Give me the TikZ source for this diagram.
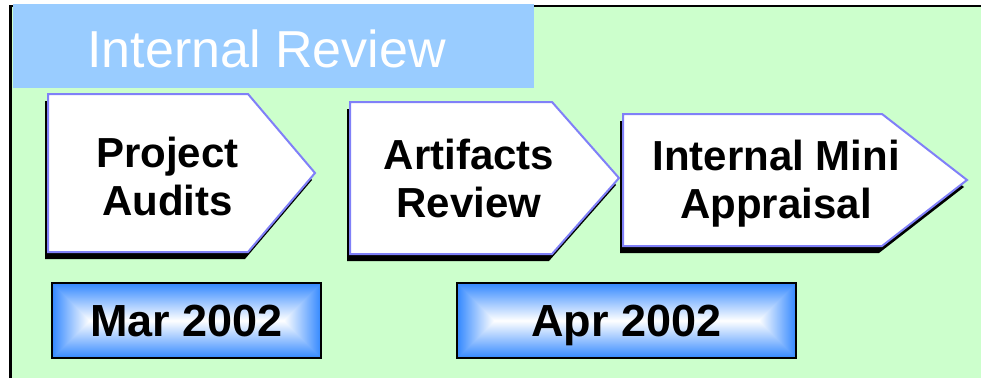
\documentclass[tikz,border=0pt]{standalone}
\usepackage{fontspec}
\setmainfont{Liberation Sans}
\usepackage{xcolor}
\usepackage{tikz}
\usetikzlibrary{positioning}
\definecolor{bggreen}{HTML}{CCFFCC}
\definecolor{headblue}{HTML}{99CCFF}
\definecolor{stageedge}{HTML}{8080F8}
\definecolor{dateblue}{HTML}{3388FF}

\begin{document}
\begin{tikzpicture}[x=1pt, y=-1pt,
    stagebox/.style={fill=white, draw=stageedge, line width=2pt, line join=miter},
    stageshadow/.style={fill=black},
    stagetext/.style={align=center, font=\fontsize{42}{48}\selectfont\bfseries},
    datebox/.style={draw=black, line width=2.5pt, minimum height=75pt,
      text height=32pt, text depth=0pt, font=\fontsize{45}{54}\selectfont\bfseries}]
    \useasboundingbox (0,0) rectangle (981,378);
    \fill[bggreen] (10,6) rectangle (981,378);
    \draw[line width=2.5pt] (10.4,378) -- (10.4,6.2) -- (981,6.2);
    \fill[headblue] (13,4) rectangle (534,88);
    \node[anchor=base, text=white, font=\fontsize{52}{62}\selectfont] (title) at (266.5,67) {Internal Review};

    \fill[stageshadow] (45,101) -- (245,101) -- (312,180) -- (245,259) -- (45,259) -- cycle;
    \draw[stagebox] (48,94) -- (248,94) -- (315,173) -- (248,252) -- (48,252) -- cycle;
    \node[stagetext] (audits) at (167.5,176.5) {Project\\Audits};

    \fill[stageshadow] (347,109) -- (549,109) -- (616,185) -- (549,261) -- (347,261) -- cycle;
    \draw[stagebox] (350,102) -- (552,102) -- (619,178) -- (552,254) -- (350,254) -- cycle;
    \node[stagetext] (artifacts) at (469,178.5) {Artifacts\\Review};

    \fill[stageshadow] (620,121) -- (879,121) -- (964,187) -- (879,253) -- (620,253) -- cycle;
    \draw[stagebox] (623,114) -- (882,114) -- (967,180) -- (882,246) -- (623,246) -- cycle;
    \node[stagetext] (appraisal) at (776,184) {Internal Mini\\Appraisal};

    \foreach \l/\r in {52/321, 457/796} {
      \shade[top color=dateblue, bottom color=dateblue, middle color=white] (\l,283) rectangle (\r,358);
      \shade[left color=dateblue, right color=white] (\l,283) -- (\l+37.5,320.5) -- (\l,358) -- cycle;
      \shade[left color=white, right color=dateblue] (\r,283) -- (\r-37.5,320.5) -- (\r,358) -- cycle;
    }
    \node[datebox, minimum width=269pt] (mar) at (186.5,320.5) {Mar 2002};
    \node[datebox, minimum width=339pt] (apr) at (626.5,320.5) {Apr 2002};
\end{tikzpicture}
\end{document}
